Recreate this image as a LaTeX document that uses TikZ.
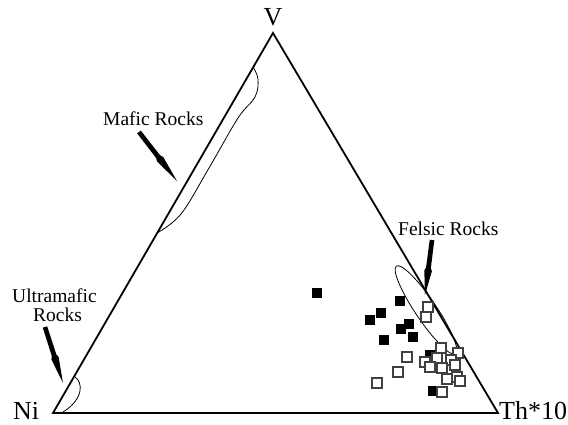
\documentclass[tikz,border=0pt]{standalone}
\usepackage{fontspec}
\setmainfont{Liberation Serif}
\usetikzlibrary{calc}
\newcommand\myptr[2]{%
  \fill ($(#1)!2.3pt!90:(#2)$) -- ($(#1)!0.5!(#2)!2.4pt!90:(#2)$) -- ($(#1)!0.56!(#2)!3.8pt!90:(#2)$) -- (#2)
     -- ($(#1)!0.56!(#2)!3.8pt!-90:(#2)$) -- ($(#1)!0.5!(#2)!2.4pt!-90:(#2)$) -- ($(#1)!2.3pt!-90:(#2)$) -- cycle;}
\begin{document}
\begin{tikzpicture}[x=1pt,y=-1pt,
  edge/.style={line width=1.8pt, line join=miter},
  region/.style={line width=0.8pt},
  fsq/.style={rectangle, fill=black, minimum size=10.5pt, inner sep=0pt, draw=none},
  osq/.style={rectangle, fill=white, draw=black!75, line width=1.1pt, minimum size=10pt, inner sep=0pt},
  vlab/.style={font=\fontsize{26}{27}\selectfont, anchor=base west, inner sep=0pt},
  rlab/.style={font=\fontsize{19.5}{20}\selectfont, anchor=base west, inner sep=0pt},
]
\path[use as bounding box, fill=white] (0,0) rectangle (568,424);

% corners
\coordinate (Vv) at (273,33);
\coordinate (Ni) at (53,413);
\coordinate (Th) at (498,413);

% regions
\draw[region] plot[smooth, tension=0.6] coordinates {(253,67) (258,79) (255,97) (238,118) (209,168) (181,214) (157,233)};
\draw[region] (75,377) .. controls (83,382) and (84,399) .. (63,412);
\draw[region, rotate around={-56:(426,310)}] (426,310) ellipse (53 and 10.5);

% triangle
\draw[edge] (Vv) -- (Th) -- (Ni) -- cycle;

% labels
\node[vlab] (lV) at (263.5,25) {V};
\node[vlab] (lNi) at (13,419.5) {Ni};
\node[vlab] (lTh) at (499,419.5) {Th*10};
\node[rlab] (lMaf) at (103,125) {Mafic Rocks};
\node[rlab] (lFel) at (398,235) {Felsic Rocks};
\node[rlab] (lUlt) at (12,302) {Ultramafic};
\node[rlab] (lUlt2) at (33,321) {Rocks};

% pointers
\coordinate (maT) at (139,132); \coordinate (maH) at (177,181);
\coordinate (feT) at (432,240); \coordinate (feH) at (425,295);
\coordinate (ulT) at (45,327);  \coordinate (ulH) at (63,383);
\myptr{maT}{maH}
\myptr{feT}{feH}
\myptr{ulT}{ulH}

% filled squares
\foreach \p [count=\i] in {(317,293),(370,320),(381,313),(400,301),(401,329),(409,324),(413,337),(384,340),(430,355),(433,391)}
  \node[fsq] (f\i) at \p {};
% open squares
\foreach \p [count=\i] in {(428,307),(426,317),(441,348),(458,353),(407,357),(425,362),(437,358),(451,360),(455,365),(430,367),(442,368),(398,372),(377,383),(447,379),(457,377),(460,381),(442,392)}
  \node[osq] (o\i) at \p {};
\end{tikzpicture}
\end{document}
